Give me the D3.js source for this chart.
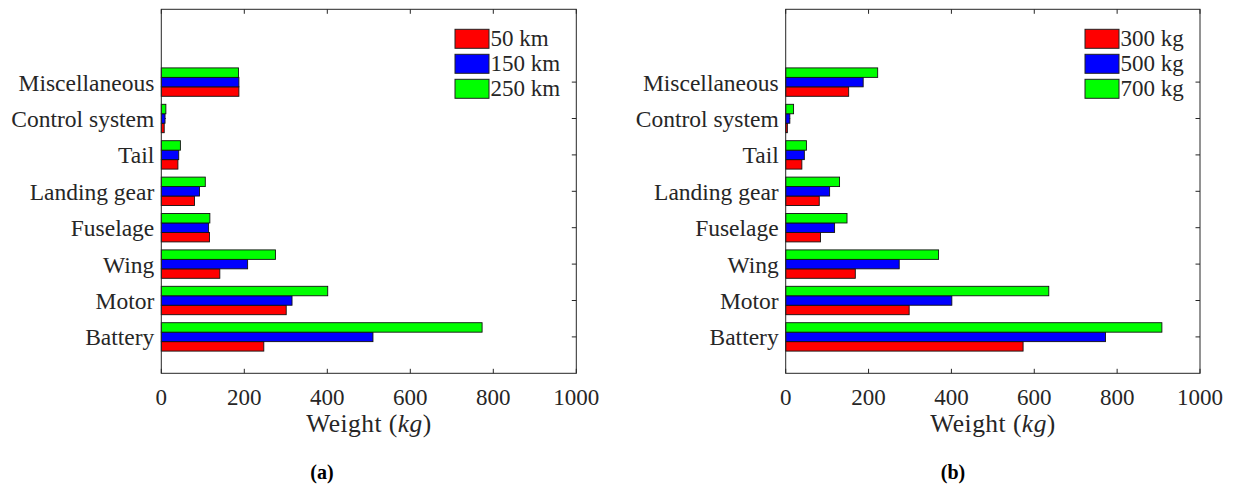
<!DOCTYPE html>
<html>
<head>
<meta charset="utf-8">
<script src="https://cdn.jsdelivr.net/npm/d3@7"></script>
<style>
  html, body { margin: 0; padding: 0; background: #fff; }
  svg { display: block; }
</style>
</head>
<body>
<svg id="chart" width="1234" height="489"></svg>
<script>
// ---------- data ----------
const categories = ["Battery", "Motor", "Wing", "Fuselage", "Landing gear", "Tail", "Control system", "Miscellaneous"];
const xTicks = [0, 200, 400, 600, 800, 1000];

const seriesA = ["50 km", "150 km", "250 km"];
const a50  = [247, 301, 141, 116, 80, 40, 7, 187];
const a150 = [510, 315, 208, 114, 92, 42, 9, 187];
const a250 = [773, 401, 275, 117, 106, 46, 11, 186];

const seriesB = ["300 kg", "500 kg", "700 kg"];
const b300 = [573, 298, 168, 84, 81, 39, 4, 152];
const b500 = [772, 401, 274, 118, 106, 45, 10, 187];
const b700 = [908, 635, 369, 148, 130, 50, 19, 222];

const colors = ["#ff0000", "#0000ff", "#00ff00"];

// ---------- drawing ----------
const svg = d3.select("#chart");
const axisColor = "#262626";
const FONT = '"Liberation Serif"';

function txt(g) {
  return g.append("text").style("font-family", FONT).attr("fill", axisColor);
}

function panel(opts) {
  const {x0, x1, yTop, yBot, values, names, caption, legendX, captionX} = opts;
  const g = svg.append("g");
  const x = d3.scaleLinear().domain([0, 1000]).range([x0, x1]);
  const y = d3.scaleLinear().domain([0, 10]).range([yBot, yTop]);
  const unit = (yBot - yTop) / 10;
  const bh = unit * 0.26;
  const off = d3.scaleLinear().domain([0, 2]).range([bh * 0.5, -bh * 1.5]);

  categories.forEach((c, i) => {
    g.append("line").attr("x1", x0).attr("x2", x0 + 4.5)
      .attr("y1", y(i + 1)).attr("y2", y(i + 1))
      .attr("stroke", axisColor).attr("stroke-width", 1);
  });

  values.forEach((vals, s) => {
    g.selectAll(null).data(vals).enter().append("rect")
      .attr("x", x(0))
      .attr("y", (d, i) => y(i + 1) + off(s))
      .attr("width", d => x(d) - x(0))
      .attr("height", bh)
      .attr("fill", colors[s])
      .attr("stroke", "#111")
      .attr("stroke-width", 0.9);
  });

  g.append("rect").attr("x", x0).attr("y", yTop).attr("width", x1 - x0).attr("height", yBot - yTop)
    .attr("fill", "none").attr("stroke", axisColor).attr("stroke-width", 1);

  xTicks.forEach(t => {
    g.append("line").attr("x1", x(t)).attr("x2", x(t)).attr("y1", yBot).attr("y2", yBot - 4.5)
      .attr("stroke", axisColor);
    g.append("line").attr("x1", x(t)).attr("x2", x(t)).attr("y1", yTop).attr("y2", yTop + 4.5)
      .attr("stroke", axisColor);
    txt(g).attr("x", x(t)).attr("y", 405).attr("text-anchor", "middle")
      .attr("font-size", 23).text(t);
  });

  categories.forEach((c, i) => {
    g.append("line").attr("x1", x1).attr("x2", x1 - 4.5).attr("y1", y(i + 1)).attr("y2", y(i + 1))
      .attr("stroke", axisColor);
    txt(g).attr("x", x0 - 7).attr("y", y(i + 1) + 8.5)
      .attr("text-anchor", "end").attr("font-size", 23.5).text(c);
  });

  const t = txt(g).attr("x", (x0 + x1) / 2).attr("y", 432).attr("text-anchor", "middle")
    .attr("font-size", 25.5).attr("textLength", 125).attr("lengthAdjust", "spacing");
  t.append("tspan").text("Weight (");
  t.append("tspan").attr("font-style", "italic").text("kg");
  t.append("tspan").text(")");

  txt(g).attr("x", captionX).attr("y", 479).attr("text-anchor", "middle")
    .attr("font-size", 20).attr("font-weight", "bold").attr("fill", "#000").text(caption);

  names.forEach((n, s) => {
    const ly = 29.3 + s * 25;
    g.append("rect").attr("x", legendX).attr("y", ly).attr("width", 34).attr("height", 19)
      .attr("fill", colors[s]).attr("stroke", "#222").attr("stroke-width", 1);
    txt(g).attr("x", legendX + 35.5).attr("y", ly + 17).attr("font-size", 23).text(n);
  });
}

panel({x0: 161.3, x1: 576.3, yTop: 9.3, yBot: 373.3, values: [a50, a150, a250], names: seriesA,
       caption: "(a)", legendX: 455, captionX: 322});
panel({x0: 785.7, x1: 1200, yTop: 9.3, yBot: 373.3, values: [b300, b500, b700], names: seriesB,
       caption: "(b)", legendX: 1085, captionX: 953});
</script>
</body>
</html>
